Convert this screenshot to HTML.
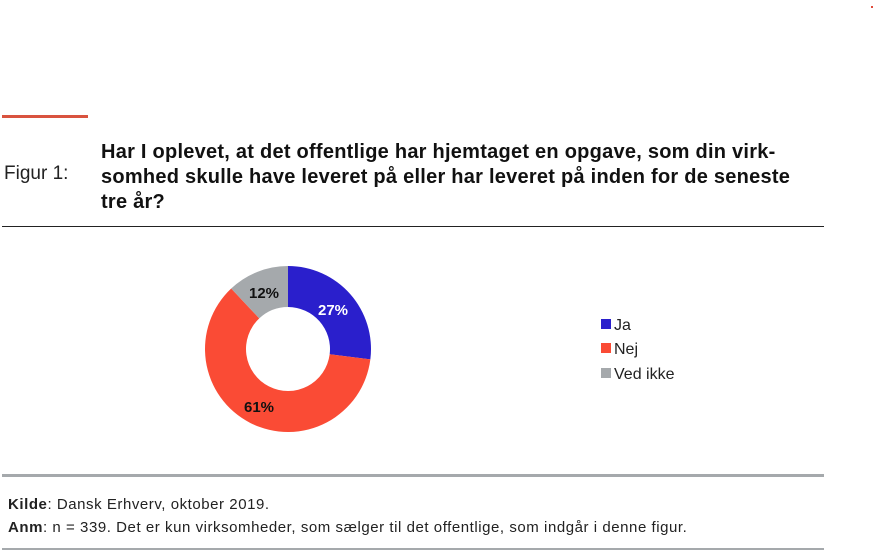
<!DOCTYPE html>
<html><head><meta charset="utf-8"><style>
body{margin:0;width:876px;height:552px;background:#fff;font-family:"Liberation Sans",sans-serif;position:relative;overflow:hidden}
div{position:absolute;white-space:nowrap}
</style></head><body>
<div style="left:871px;top:6px;width:2px;height:2px;background:#e04a3a"></div>
<div style="left:2px;top:115px;width:86px;height:3px;background:#d9533f"></div>
<div style="left:4px;top:163px;font-size:19px;color:#222">Figur 1:</div>
<div style="left:101px;top:140px;width:760px;font-size:20px;letter-spacing:0.25px;font-weight:bold;line-height:25px;color:#111">Har I oplevet, at det offentlige har hjemtaget en opgave, som din virk-<br>somhed skulle have leveret på eller har leveret på inden for de seneste<br>tre år?</div>
<div style="left:2px;top:226px;width:822px;height:1px;background:#222"></div>
<svg style="position:absolute;left:0;top:0" width="876" height="552">
<path d="M288,266 A83,83 0 0 1 370.35,359.4 L329.67,354.26 A42,42 0 0 0 288,307 Z" fill="#2a1fcc"/>
<path d="M370.35,359.4 A83,83 0 1 1 231.19,288.5 L259.25,318.38 A42,42 0 1 0 329.67,354.26 Z" fill="#fa4b35"/>
<path d="M231.19,288.5 A83,83 0 0 1 288,266 L288,307 A42,42 0 0 0 259.25,318.38 Z" fill="#a5a9ac"/>
<g font-family="Liberation Sans, sans-serif" font-weight="bold" font-size="15">
<text x="318" y="315" fill="#fff">27%</text>
<text x="249" y="298" fill="#111">12%</text>
<text x="244" y="412" fill="#111">61%</text>
</g>
<rect x="601" y="319" width="10" height="10" fill="#2a1fcc"/>
<rect x="601" y="343" width="10" height="10" fill="#fa4b35"/>
<rect x="601" y="368" width="10" height="10" fill="#a5a9ac"/>
<g font-family="Liberation Sans, sans-serif" font-size="16" fill="#222">
<text x="614" y="330">Ja</text>
<text x="614" y="354">Nej</text>
<text x="614" y="379">Ved ikke</text>
</g>
</svg>
<div style="left:2px;top:474px;width:822px;height:3px;background:#a5a9ac"></div>
<div style="left:8px;top:496px;font-size:15px;letter-spacing:0.55px;color:#222"><b>Kilde</b>: Dansk Erhverv, oktober 2019.</div>
<div style="left:8px;top:519px;font-size:15px;letter-spacing:0.55px;color:#222"><b>Anm</b>: n = 339. Det er kun virksomheder, som sælger til det offentlige, som indgår i denne figur.</div>
<div style="left:2px;top:548px;width:822px;height:2px;background:#a5a9ac"></div>
</body></html>
